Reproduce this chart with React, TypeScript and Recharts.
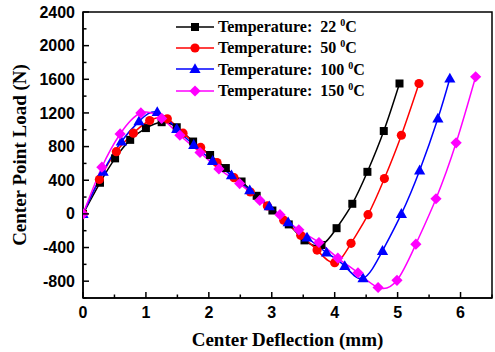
import {
  Line,
  LineChart,
  ReferenceArea,
  XAxis,
  YAxis,
  Label,
} from 'recharts';

// deflection (mm) / load (N), one pair of arrays per temperature
const x22 = [0, 0.27, 0.51, 0.75, 1.0, 1.25, 1.49, 1.75, 2.02, 2.27, 2.52, 2.76, 3.01, 3.27, 3.52, 3.79, 4.03, 4.28, 4.52, 4.78, 5.03];
const y22 = [0, 370, 660, 880, 1020, 1090, 1030, 860, 700, 545, 385, 215, 40, -125, -315, -370, -170, 120, 500, 985, 1550];

const x50 = [0, 0.26, 0.53, 0.8, 1.06, 1.34, 1.59, 1.87, 2.13, 2.4, 2.66, 2.93, 3.19, 3.46, 3.72, 4.0, 4.26, 4.53, 4.79, 5.06, 5.34];
const y50 = [0, 410, 740, 960, 1110, 1130, 960, 790, 610, 430, 260, 95, -75, -255, -430, -580, -350, -10, 420, 935, 1550];

const x100 = [0, 0.32, 0.61, 0.89, 1.18, 1.49, 1.76, 2.06, 2.36, 2.65, 2.96, 3.26, 3.56, 3.87, 4.16, 4.45, 4.76, 5.06, 5.35, 5.64, 5.83];
const y100 = [0, 500, 860, 1100, 1210, 1010, 820, 630, 460, 280, 90, -100, -280, -460, -620, -765, -440, 0, 517, 1134, 1610];

const x150 = [0, 0.3, 0.59, 0.92, 1.25, 1.54, 1.86, 2.16, 2.49, 2.81, 3.13, 3.43, 3.75, 4.05, 4.37, 4.69, 4.99, 5.29, 5.61, 5.93, 6.24];
const y150 = [0, 555, 950, 1200, 1135, 935, 730, 535, 360, 160, -10, -190, -340, -525, -700, -875, -790, -360, 180, 845, 1630];

const temps = ['22', '50', '100', '150'];
const colors = ['#000000', '#ff0000', '#0000ff', '#ff00ff'];

const xTicks = [0, 0.5, 1, 1.5, 2, 2.5, 3, 3.5, 4, 4.5, 5, 5.5, 6, 6.5];
const yTicks = [-1000, -800, -600, -400, -200, 0, 200, 400, 600, 800, 1000, 1200, 1400, 1600, 1800, 2000, 2200, 2400];

const toRows = (xs: number[], ys: number[]) => xs.map((x, i) => ({ x, y: ys[i] }));
const series = [toRows(x22, y22), toRows(x50, y50), toRows(x100, y100), toRows(x150, y150)];

const tickFont = {
  fontFamily: '"Liberation Sans", Arial, sans-serif',
  fontWeight: 700,
  fontSize: 16,
  fill: '#000',
};
const serif = '"Liberation Serif", "Times New Roman", serif';

function Marker({ kind, cx, cy }: { kind: number; cx: number; cy: number }) {
  const c = colors[kind];
  if (kind === 0) return <rect x={cx - 4} y={cy - 4} width={8} height={8} fill={c} />;
  if (kind === 1) return <circle cx={cx} cy={cy} r={4.6} fill={c} />;
  if (kind === 2)
    return <polygon points={`${cx},${cy - 5.8} ${cx - 5.6},${cy + 4} ${cx + 5.6},${cy + 4}`} fill={c} />;
  return <polygon points={`${cx},${cy - 5.6} ${cx + 5.6},${cy} ${cx},${cy + 5.6} ${cx - 5.6},${cy}`} fill={c} />;
}

const makeDot = (kind: number) => (p: any) => {
  if (p.cx == null || p.cy == null) return <g key={p.index} />;
  return (
    <g key={`d${kind}-${p.index}`}>
      <Marker kind={kind} cx={p.cx} cy={p.cy} />
    </g>
  );
};

// ticks point into the plot; recharts hands us the label position (axis + 6 + 2)
const XTick = ({ x, y, payload }: any) => {
  const axisY = y - 8;
  const v = payload.value;
  const major = Number.isInteger(v);
  return (
    <g>
      <line x1={x} x2={x} y1={axisY} y2={axisY - (major ? 6 : 3.5)} stroke="#000" strokeWidth={1.5} />
      {major && (
        <text x={x} y={axisY + 14} dy="0.35em" textAnchor="middle" {...tickFont}>
          {v}
        </text>
      )}
    </g>
  );
};

const YTick = ({ x, y, payload }: any) => {
  const axisX = x + 8;
  const v = payload.value;
  const major = v % 400 === 0;
  return (
    <g>
      <line x1={axisX} x2={axisX + (major ? 6 : 3.5)} y1={y} y2={y} stroke="#000" strokeWidth={1.5} />
      {major && (
        <text x={axisX - 8} y={y} dy="0.35em" textAnchor="end" {...tickFont}>
          {v}
        </text>
      )}
    </g>
  );
};

const LegendBox = () => (
  <div
    style={{
      position: 'absolute',
      left: 176,
      top: 16,
      fontFamily: serif,
      fontWeight: 700,
      fontSize: 16,
      color: '#000',
    }}
  >
    {temps.map((t, i) => (
      <div key={t} style={{ display: 'flex', alignItems: 'center', height: 21.4, whiteSpace: 'pre' }}>
        <svg width={38} height={14} style={{ display: 'block' }}>
          <line x1={0} x2={38} y1={7} y2={7} stroke={colors[i]} strokeWidth={1.5} />
          <Marker kind={i} cx={19} cy={7} />
        </svg>
        <span style={{ marginLeft: 4 }}>
          {`Temperature:  ${t} `}
          <sup style={{ fontSize: 10 }}>0</sup>C
        </span>
      </div>
    ))}
  </div>
);

export default function App() {
  return (
    <div style={{ position: 'absolute', left: 0, top: 0, width: 495, height: 352, background: '#fff' }}>
      <LineChart width={495} height={352} margin={{ top: 12, right: 3, left: 0, bottom: 0 }}>
        <XAxis
          type="number"
          dataKey="x"
          domain={[0, 6.5]}
          ticks={xTicks}
          interval={0}
          allowDataOverflow
          height={54}
          tickSize={6}
          tickMargin={2}
          tickLine={false}
          axisLine={{ stroke: '#000', strokeWidth: 1.5 }}
          tick={<XTick />}
        >
          <Label
            content={({ viewBox }: any) => (
              <text
                x={viewBox.x + viewBox.width / 2}
                y={viewBox.y + 48}
                textAnchor="middle"
                fontFamily={serif}
                fontWeight={700}
                fontSize={19}
              >
                Center Deflection (mm)
              </text>
            )}
          />
        </XAxis>
        <YAxis
          type="number"
          domain={[-1000, 2400]}
          ticks={yTicks}
          interval={0}
          allowDataOverflow
          width={83}
          tickSize={6}
          tickMargin={2}
          tickLine={false}
          axisLine={{ stroke: '#000', strokeWidth: 1.5 }}
          tick={<YTick />}
        >
          <Label
            content={({ viewBox }: any) => {
              const cx = 19;
              const cy = viewBox.y + viewBox.height / 2;
              return (
                <text
                  x={cx}
                  y={cy}
                  dy="0.35em"
                  transform={`rotate(-90 ${cx} ${cy})`}
                  textAnchor="middle"
                  fontFamily={serif}
                  fontWeight={700}
                  fontSize={19}
                >
                  Center Point Load (N)
                </text>
              );
            }}
          />
        </YAxis>
        <ReferenceArea x1={0} x2={6.5} y1={-1000} y2={2400} fill="none" stroke="#000" strokeWidth={1.5} ifOverflow="visible" />
        {series.map((rows, i) => (
          <Line
            key={temps[i]}
            data={rows}
            dataKey="y"
            type="natural"
            stroke={colors[i]}
            strokeWidth={1.5}
            dot={makeDot(i)}
            activeDot={false}
            isAnimationActive={false}
          />
        ))}
      </LineChart>
      <LegendBox />
    </div>
  );
}
